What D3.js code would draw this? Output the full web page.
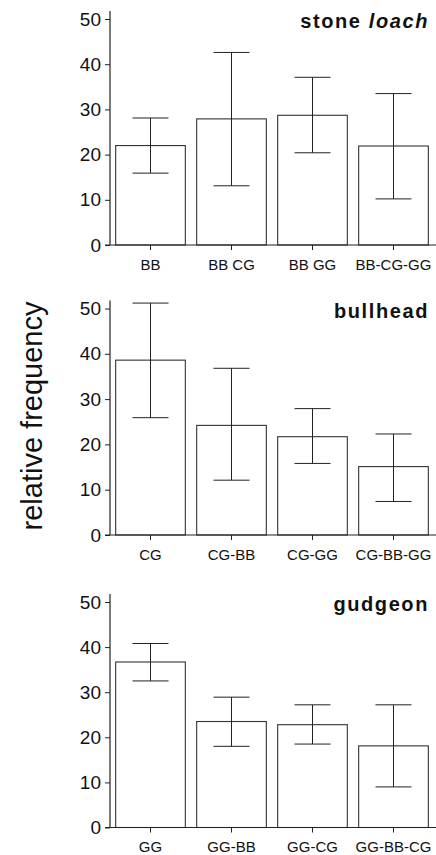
<!DOCTYPE html>
<html>
<head>
<meta charset="utf-8">
<script src="https://cdn.jsdelivr.net/npm/d3@7"></script>
<style>
    body { margin: 0; background: #fff; }
    svg { display: block; font-family: "Liberation Sans", Arial, sans-serif; }
</style>
</head>
<body>
<div id="figure"></div>
<script>
// data
var titles = ["stone", "bullhead", "gudgeon"];
var titleItalic = [" loach", "", ""];
var cats1 = ["BB", "BB CG", "BB GG", "BB-CG-GG"];
var cats2 = ["CG", "CG-BB", "CG-GG", "CG-BB-GG"];
var cats3 = ["GG", "GG-BB", "GG-CG", "GG-BB-CG"];
var mean1 = [22.0, 27.9, 28.7, 21.9];
var hi1 = [28.1, 42.6, 37.1, 33.5];
var lo1 = [15.9, 13.1, 20.4, 10.2];
var mean2 = [38.6, 24.2, 21.7, 15.1];
var hi2 = [51.2, 36.8, 27.9, 22.3];
var lo2 = [25.9, 12.1, 15.8, 7.4];
var mean3 = [36.7, 23.5, 22.8, 18.1];
var hi3 = [40.8, 28.9, 27.2, 27.2];
var lo3 = [32.5, 18.0, 18.5, 9.0];
var yTicks = [0, 10, 20, 30, 40, 50];
var yLabel = "relative frequency";

var w = 436;
var h = 855;
var svg = d3.select("#figure")
    .append("svg")
    .attr("width", w)
    .attr("height", h);

var panels = [
    { cats: cats1, mean: mean1, hi: hi1, lo: lo1, y0: 245, y50: 19 },
    { cats: cats2, mean: mean2, hi: hi2, lo: lo2, y0: 535, y50: 308.5 },
    { cats: cats3, mean: mean3, hi: hi3, lo: lo3, y0: 827.5, y50: 602 }
];

var axisX = 110;
var ink = "#222";

panels.forEach(function(p, k) {
    var g = svg.append("g");
    var data = p.cats.map(function(c, i) {
        return { cat: c, mean: p.mean[i], hi: p.hi[i], lo: p.lo[i] };
    });

    var xScale = d3.scaleBand()
        .domain(p.cats)
        .range([axisX, 434])
        .paddingInner(0.14)
        .paddingOuter(0.07);

    var yScale = d3.scaleLinear()
        .domain([0, 50])
        .range([p.y0, p.y50]);

    // bars
    g.selectAll("rect")
        .data(data)
        .enter()
        .append("rect")
        .attr("x", function(d) { return xScale(d.cat); })
        .attr("y", function(d) { return yScale(d.mean); })
        .attr("width", xScale.bandwidth())
        .attr("height", function(d) { return yScale(0) - yScale(d.mean); })
        .attr("fill", "#fff")
        .attr("stroke", "#333")
        .attr("stroke-width", 1.1);

    // error bars
    var capW = 18;
    var cx = function(d) { return xScale(d.cat) + xScale.bandwidth() / 2; };
    g.selectAll(".err")
        .data(data)
        .enter()
        .append("line")
        .attr("x1", cx).attr("x2", cx)
        .attr("y1", function(d) { return yScale(d.hi); })
        .attr("y2", function(d) { return yScale(d.lo); })
        .attr("stroke", ink).attr("stroke-width", 1);
    ["hi", "lo"].forEach(function(key) {
        g.selectAll(".cap-" + key)
            .data(data)
            .enter()
            .append("line")
            .attr("x1", function(d) { return cx(d) - capW; })
            .attr("x2", function(d) { return cx(d) + capW; })
            .attr("y1", function(d) { return yScale(d[key]); })
            .attr("y2", function(d) { return yScale(d[key]); })
            .attr("stroke", ink).attr("stroke-width", 1);
    });

    // y axis
    var yAxis = d3.axisLeft(yScale)
        .tickValues(yTicks)
        .tickSize(5)
        .tickSizeOuter(0)
        .tickPadding(4);
    var ya = g.append("g")
        .attr("transform", "translate(" + axisX + ",0)")
        .call(yAxis);
    ya.select(".domain").remove();
    ya.selectAll("line").attr("stroke", ink);
    ya.selectAll("text")
        .attr("fill", "#111")
        .style("font-size", "19px")
        .style("font-family", "'Liberation Sans', Arial, sans-serif");
    g.append("line")
        .attr("x1", axisX).attr("x2", axisX)
        .attr("y1", yScale(50) - 8).attr("y2", yScale(0))
        .attr("stroke", ink).attr("stroke-width", 1.2);

    // x axis
    var xAxis = d3.axisBottom(xScale)
        .tickSize(5)
        .tickSizeOuter(0)
        .tickPadding(9);
    var xa = g.append("g")
        .attr("transform", "translate(0," + yScale(0) + ")")
        .call(xAxis);
    xa.select(".domain").remove();
    xa.selectAll("line").attr("stroke", ink);
    xa.selectAll("text")
        .attr("fill", "#111")
        .style("font-size", "15px")
        .style("font-family", "'Liberation Sans', Arial, sans-serif");
    g.append("line")
        .attr("x1", axisX - 5).attr("x2", w)
        .attr("y1", yScale(0)).attr("y2", yScale(0))
        .attr("stroke", ink).attr("stroke-width", 1.2);

    // panel title
    var t = g.append("text")
        .attr("x", 429)
        .attr("y", yScale(50) + 9)
        .attr("text-anchor", "end")
        .style("font-size", "20px")
        .style("font-weight", "bold")
        .style("letter-spacing", "1.6px")
        .attr("fill", "#111");
    t.append("tspan").text(titles[k]);
    if (titleItalic[k]) {
        t.append("tspan").style("font-style", "italic").text(titleItalic[k]);
    }
});

// shared y label
svg.append("text")
    .attr("transform", "translate(42,416) rotate(-90)")
    .attr("text-anchor", "middle")
    .style("font-size", "29px")
    .attr("fill", "#111")
    .text(yLabel);
</script>
</body>
</html>
